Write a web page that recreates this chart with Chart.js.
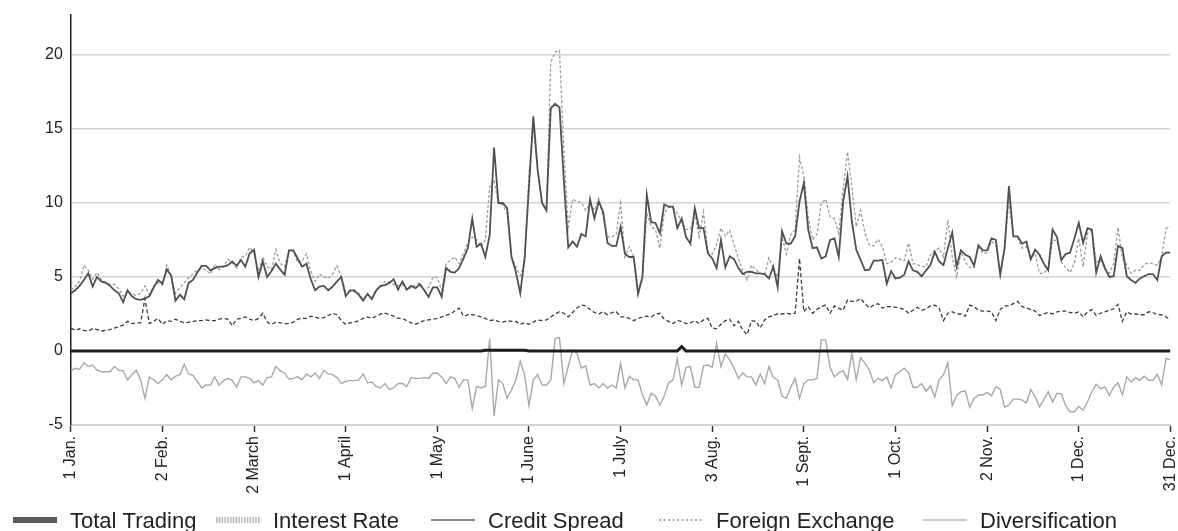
<!DOCTYPE html>
<html>
<head>
<meta charset="utf-8">
<title>Trading VaR by risk type</title>
<script src="https://cdn.jsdelivr.net/npm/chart.js@4.4.1/dist/chart.umd.min.js"></script>
<style>
  html, body { margin: 0; padding: 0; background: #ffffff; }
  #wrap { width: 1178px; height: 531px; position: relative; overflow: hidden; }
  canvas { display: block; }
</style>
</head>
<body>
<div id="wrap"><canvas id="chart" width="1178" height="531"></canvas></div>
<script>
// Month markers on the horizontal axis: one label every 21 trading days.
const tickLabels = ['1 Jan.', '2 Feb.', '2 March', '1 April', '1 May', '1 June', '1 July',
                    '3 Aug.', '1 Sept.', '1 Oct.', '2 Nov.', '1 Dec.', '31 Dec.'];
const daysPerTick = 21;
const yTicks = [-5, 0, 5, 10, 15, 20];

const seriesNames = ['Total Trading', 'Interest Rate', 'Credit Spread', 'Foreign Exchange', 'Diversification'];

// Daily values, one per trading day (253 days).
const totalTrading = [
  0,0,0,0,0,0,0,0,0,0,
  0,0,0,0,0,0,0,0,0,0,
  0,0,0,0,0,0,0,0,0,0,
  0,0,0,0,0,0,0,0,0,0,
  0,0,0,0,0,0,0,0,0,0,
  0,0,0,0,0,0,0,0,0,0,
  0,0,0,0,0,0,0,0,0,0,
  0,0,0,0,0,0,0,0,0,0,
  0,0,0,0,0,0,0,0,0,0,
  0,0,0,0,0,0.05,0.05,0.05,0.05,0.05,
  0.05,0.05,0.05,0.05,0.05,0,0,0,0,0,
  0,0,0,0,0,0,0,0,0,0,
  0,0,0,0,0,0,0,0,0,0,
  0,0,0,0,0,0,0,0,0,0,
  0.3,0,0,0,0,0,0,0,0,0,
  0,0,0,0,0,0,0,0,0,0,
  0,0,0,0,0,0,0,0,0,0,
  0,0,0,0,0,0,0,0,0,0,
  0,0,0,0,0,0,0,0,0,0,
  0,0,0,0,0,0,0,0,0,0,
  0,0,0,0,0,0,0,0,0,0,
  0,0,0,0,0,0,0,0,0,0,
  0,0,0,0,0,0,0,0,0,0,
  0,0,0,0,0,0,0,0,0,0,
  0,0,0,0,0,0,0,0,0,0,
  0,0,0
];

const interestRate = [
  4.1, 4.35, 4.7, 5.8, 5.45, 4.85, 5.3, 4.8, 4.65, 4.5,
  4.5, 4.2, 3.7, 4.05, 3.85, 3.75, 3.9, 4.4, 3.8, 4.4,
  4.6, 4.45, 5.8, 5.05, 3.9, 4.3, 4.6, 4.95, 5.2, 5.5,
  5.6, 5.45, 5.2, 5.85, 5.5, 5.7, 6.2, 5.95, 5.6, 6.35,
  6.4, 7.0, 6.6, 5.4, 6.35, 5.7, 5.5, 6.85, 5.9, 5.7,
  6.8, 6.75, 5.95, 6.1, 6.55, 5.4, 4.7, 5.2, 5.0, 4.9,
  5.2, 5.75, 5.0, 4.0, 4.05, 4.0, 3.9, 3.5, 3.85, 3.6,
  4.1, 4.3, 4.7, 4.65, 4.5, 4.4, 4.5, 4.1, 4.3, 4.45,
  4.6, 4.1, 4.3, 5.0, 4.95, 4.1, 5.9, 6.15, 6.35, 5.9,
  6.6, 7.3, 7.7, 7.5, 7.05, 7.5, 11.1, 11.55, 10.0, 9.85,
  9.3, 6.35, 5.7, 5.1, 5.9, 12.0, 15.15, 12.2, 10.1, 9.5,
  19.5, 20.2, 20.3, 13.5, 8.4, 10.25, 10.1, 10.05, 9.5, 9.95,
  9.5, 10.3, 9.1, 7.7, 7.7, 7.9, 10.0, 6.35, 7.05, 6.35,
  4.1, 4.8, 9.3, 8.4, 8.2, 6.95, 9.3, 9.7, 9.7, 9.3,
  8.75, 8.2, 8.25, 9.3, 7.7, 9.4, 6.7, 6.55, 7.2, 8.3,
  7.75, 8.15, 7.2, 6.25, 5.4, 4.8, 5.8, 5.5, 5.25, 5.15,
  6.3, 5.55, 5.0, 7.7, 6.55, 7.85, 8.2, 13.1, 11.8, 9.05,
  7.5, 7.9, 10.0, 10.25, 9.05, 8.95, 7.95, 10.9, 13.45, 11.1,
  8.4, 9.5, 7.95, 7.15, 7.1, 7.55, 7.05, 5.9, 6.0, 6.3,
  6.2, 6.1, 7.3, 5.9, 5.85, 5.7, 5.7, 6.5, 6.8, 6.95,
  6.35, 8.85, 6.35, 5.0, 6.7, 6.0, 5.65, 5.65, 7.0, 6.6,
  6.65, 7.4, 7.15, 5.2, 6.95, 10.2, 7.75, 7.65, 6.95, 7.05,
  6.3, 6.6, 5.25, 5.25, 5.6, 7.5, 7.45, 6.0, 5.65, 5.3,
  5.95, 7.6, 5.7, 7.95, 8.2, 6.0, 6.15, 5.5, 5.25, 5.9,
  8.35, 6.25, 5.8, 5.25, 5.45, 5.45, 5.85, 5.95, 5.9, 5.8,
  6.35, 8.3, 8.4
];

const creditSpread = [
  3.9, 4.1, 4.4, 4.8, 5.25, 4.35, 5.0, 4.7, 4.6, 4.4,
  4.1, 3.9, 3.3, 4.1, 3.7, 3.5, 3.45, 3.55, 3.7, 4.3,
  4.8, 4.55, 5.5, 5.1, 3.4, 3.8, 3.5, 4.6, 4.8, 5.3,
  5.75, 5.75, 5.45, 5.6, 5.7, 5.7, 5.8, 6.05, 5.75, 6.15,
  5.7, 6.6, 6.85, 5.0, 6.05, 5.0, 5.4, 5.9, 5.5, 5.15,
  6.8, 6.8, 6.25, 5.7, 5.9, 4.85, 4.1, 4.35, 4.4, 4.1,
  4.35, 4.7, 5.0, 3.7, 4.1, 4.1, 3.8, 3.4, 3.85, 3.5,
  4.1, 4.4, 4.45, 4.6, 4.85, 4.15, 4.7, 4.15, 4.4, 4.25,
  4.5, 4.1, 3.65, 4.3, 4.3, 3.65, 5.6, 5.35, 5.3, 5.6,
  6.25, 6.95, 8.95, 7.05, 7.25, 6.35, 7.85, 13.75, 10.0, 10.0,
  9.65, 6.35, 5.35, 3.9, 6.25, 11.1, 15.85, 12.2, 10.0, 9.5,
  16.4, 16.7, 16.45, 11.5, 7.0, 7.4, 7.05, 7.9, 7.75, 10.25,
  8.95, 10.1, 9.4, 7.3, 7.1, 7.1, 8.4, 6.55, 6.35, 6.35,
  3.85, 5.0, 10.55, 8.7, 8.65, 7.95, 9.9, 9.75, 9.75, 8.3,
  8.95, 7.7, 7.25, 9.65, 8.3, 8.3, 6.6, 6.25, 5.6, 7.5,
  5.65, 6.4, 6.2, 5.6, 5.2, 5.35, 5.35, 5.25, 5.25, 5.2,
  4.9, 5.7, 4.3, 8.1, 7.25, 7.25, 7.75, 10.1, 11.35, 8.2,
  6.95, 7.0, 6.25, 6.4, 7.5, 7.6, 6.35, 10.1, 11.8, 8.75,
  6.85, 6.15, 5.45, 5.5, 6.1, 6.1, 6.15, 4.55, 5.4, 4.9,
  4.95, 5.15, 6.05, 5.45, 5.35, 5.05, 5.45, 5.8, 6.7, 6.05,
  5.8, 6.95, 8.0, 5.7, 6.8, 6.5, 6.35, 5.75, 7.15, 6.8,
  6.8, 7.6, 7.5, 5.15, 6.95, 11.15, 7.75, 7.75, 7.25, 7.4,
  6.2, 6.85, 6.5, 5.9, 5.45, 8.2, 7.7, 6.15, 6.55, 6.65,
  7.6, 8.65, 7.3, 8.3, 8.2, 5.3, 6.4, 5.6, 5.0, 5.05,
  7.1, 6.95, 5.05, 4.8, 4.6, 4.9, 5.05, 5.2, 5.2, 4.8,
  6.4, 6.65, 6.65
];

const foreignExchange = [
  1.55, 1.4, 1.5, 1.4, 1.35, 1.5, 1.45, 1.35, 1.4, 1.45,
  1.55, 1.65, 1.75, 2.0, 1.85, 1.9, 1.9, 3.55, 1.85, 2.0,
  2.2, 1.8, 2.05, 2.0, 2.15, 2.0, 1.9, 1.95, 2.0, 2.05,
  2.05, 2.1, 2.05, 2.05, 2.15, 2.2, 2.15, 1.7, 2.15, 2.2,
  2.3, 2.15, 2.05, 2.2, 2.55, 1.95, 1.8, 1.95, 1.9, 1.85,
  1.85, 1.95, 2.15, 2.2, 2.2, 2.35, 2.3, 2.2, 2.25, 2.4,
  2.55, 2.45, 2.05, 1.8, 1.9, 1.95, 2.05, 2.2, 2.3, 2.2,
  2.35, 2.5, 2.55, 2.45, 2.35, 2.2, 2.2, 2.05, 1.9, 1.8,
  1.95, 2.05, 2.1, 2.15, 2.2, 2.3, 2.4, 2.5, 2.7, 2.9,
  2.35, 2.45, 2.45, 2.4, 2.3, 2.2, 2.05, 2.1, 2.0, 1.95,
  2.05, 2.0, 2.0, 1.8, 1.9, 1.8, 1.95, 2.1, 2.05, 2.1,
  2.3, 2.5, 2.65, 2.55, 2.3, 2.6, 2.9, 3.1, 3.05, 2.8,
  2.6, 2.5, 2.65, 2.45, 2.6, 2.65, 2.3, 2.3, 2.2, 2.05,
  2.2, 2.3, 2.35, 2.3, 2.5, 2.55, 2.15, 2.0, 1.85, 2.05,
  2.0, 1.85, 1.9, 2.05, 1.85, 2.1, 2.2, 1.55, 1.5, 1.8,
  2.05, 2.15, 1.7, 2.0, 1.4, 1.1, 2.05, 2.0, 1.55, 2.1,
  2.3, 2.4, 2.5, 2.5, 2.55, 2.5, 2.55, 6.25, 2.65, 3.0,
  2.55, 2.8, 3.0, 3.1, 2.55, 3.05, 2.9, 2.75, 3.45, 3.35,
  3.35, 3.55, 3.2, 2.9, 3.1, 3.2, 2.9, 3.0, 3.0, 2.95,
  2.9, 2.8, 2.55, 2.75, 2.95, 2.75, 2.85, 3.05, 3.1, 2.9,
  2.05, 2.55, 2.65, 2.5, 2.5, 2.35, 3.1, 3.0, 2.75, 2.7,
  2.7, 2.65, 2.05, 2.8, 3.05, 3.05, 3.2, 3.35, 3.0, 2.9,
  2.8, 2.7, 2.4, 2.5, 2.6, 2.5, 2.65, 2.7, 2.7, 2.6,
  2.55, 2.65, 2.3, 2.65, 2.8, 2.4, 2.55, 2.65, 2.75, 2.85,
  3.15, 2.0, 2.65, 2.5, 2.5, 2.45, 2.45, 2.65, 2.6, 2.45,
  2.45, 2.3, 2.1
];

const diversification = [
  -1.33, -1.17, -1.25, -0.8, -1.05, -0.95, -1.3, -1.4, -1.4, -1.4,
  -1.05, -1.3, -1.33, -1.95, -1.6, -1.3, -1.95, -3.2, -1.75, -1.95,
  -2.2, -1.95, -1.6, -1.95, -1.7, -1.6, -0.9, -1.55, -1.65, -2.05,
  -2.5, -2.3, -2.3, -1.75, -2.3, -2.0, -1.85, -2.0, -2.45, -1.75,
  -1.75, -1.85, -2.15, -2.0, -2.3, -1.8, -1.75, -1.05, -1.33, -1.5,
  -1.91, -1.85, -1.75, -1.95, -1.55, -1.75, -1.48, -1.85, -1.3, -1.55,
  -1.6, -1.8, -2.2, -2.05, -2.0, -2.0, -1.95, -1.55, -2.15, -2.1,
  -2.4, -2.5, -2.2, -2.6, -2.5, -2.2, -2.2, -2.4, -1.8, -1.85,
  -1.85, -1.8, -1.85, -1.5, -1.5, -1.75, -2.2, -1.75, -1.85, -2.45,
  -1.95, -1.95, -3.9, -2.4, -2.5, -2.4, 0.85, -4.4, -1.95, -2.2,
  -3.2, -2.64, -1.95, -0.7, -1.6, -3.7, -1.95, -1.6, -2.3, -2.3,
  -1.95, 0.85, 0.9, -2.2, -1.05, 0.05, -0.15, -1.15, -1.0, -2.3,
  -2.2, -2.5, -2.2, -2.5, -2.3, -2.5, -0.85, -2.5, -1.7, -1.95,
  -1.95, -2.95, -3.65, -2.85, -3.05, -3.65, -3.05, -2.15, -1.95, -0.55,
  -2.3, -1.1, -1.05, -2.45, -2.45, -1.0, -0.95, -1.1, 0.5, -1.05,
  -0.2, -0.6, -1.17, -1.85, -1.47, -1.75, -1.75, -2.3, -1.55, -2.2,
  -1.05, -1.78, -1.95, -3.05, -3.2, -2.45, -1.85, -3.2, -2.2, -1.95,
  -1.95, -1.85, 0.75, 0.75, -1.1, -1.75, -1.47, -1.33, -1.92, -0.15,
  -1.95, -0.43, -0.83, -1.28, -2.14, -1.85, -2.0, -1.75, -2.5, -1.6,
  -1.4, -1.17, -1.47, -2.45, -2.45, -2.2, -2.7, -2.36, -3.1, -1.95,
  -1.6, -0.8, -3.7, -3.0, -2.75, -2.69, -3.8, -3.2, -2.97, -2.97,
  -2.8, -3.03, -2.4, -2.6, -3.8, -3.65, -3.25, -3.25, -3.3, -3.5,
  -2.6, -3.1, -3.78, -3.28, -2.75, -3.45, -2.85, -2.9, -3.7, -4.1,
  -4.1, -3.75, -4.0, -3.43, -2.75, -2.25, -2.55, -2.43, -3.0, -2.45,
  -2.15, -2.98, -1.75, -2.1, -1.8, -1.98, -1.7, -1.98, -1.98, -1.57,
  -2.3, -0.5, -0.6
];

// Axis text: a narrow grotesque if one is installed, otherwise the regular face.
function axisFont() {
  const ctx = document.createElement('canvas').getContext('2d');
  const sample = '2 March 1 Sept. 20 15 10';
  ctx.font = "20px 'Liberation Sans Narrow', monospace";
  const narrow = ctx.measureText(sample).width;
  ctx.font = '20px monospace';
  const mono = ctx.measureText(sample).width;
  if (Math.abs(narrow - mono) > 0.5) {
    return { family: "'Liberation Sans Narrow', 'Liberation Sans', Arial, sans-serif", size: 18.5 };
  }
  return { family: "'Liberation Sans', Arial, sans-serif", size: 16 };
}
const tickFont = axisFont();

const points = values => values.map((v, i) => ({ x: i, y: v }));

// Legend row drawn under the axis labels, one swatch per series.
const legendSwatches = [
  { color: '#5c5c5c', width: 6,   dash: [] },
  { color: '#b3b3b3', width: 6,   dash: [1.4, 1.4] },
  { color: '#5c5c5c', width: 1.6, dash: [] },
  { color: '#8c8c8c', width: 1.4, dash: [2, 2.5] },
  { color: '#b8b8b8', width: 1.6, dash: [] }
];
const legendStarts = [13, 216, 431, 659, 923];

const legendRow = {
  id: 'legendRow',
  afterDraw(chart) {
    const ctx = chart.ctx;
    const lineY = 520;
    ctx.save();
    ctx.font = "22px 'Liberation Sans', Arial, sans-serif";
    ctx.textBaseline = 'alphabetic';
    ctx.textAlign = 'left';
    ctx.fillStyle = '#222222';
    chart.data.datasets.forEach((ds, k) => {
      const sw = legendSwatches[k];
      const x0 = legendStarts[k];
      ctx.beginPath();
      ctx.setLineDash(sw.dash);
      ctx.lineCap = 'butt';
      ctx.lineWidth = sw.width;
      ctx.strokeStyle = sw.color;
      ctx.moveTo(x0, lineY);
      ctx.lineTo(x0 + 44, lineY);
      ctx.stroke();
      ctx.setLineDash([]);
      ctx.fillText(ds.label, x0 + 57, 528);
    });
    ctx.restore();
  }
};

const lastIndex = creditSpread.length - 1;

new Chart(document.getElementById('chart'), {
  type: 'line',
  data: {
    datasets: [
      { label: seriesNames[0], data: points(totalTrading),    borderColor: '#1c1c1c', borderWidth: 3,   order: 0 },
      { label: seriesNames[1], data: points(interestRate),    borderColor: '#9c9c9c', borderWidth: 1.3, borderDash: [3, 2], order: 2 },
      { label: seriesNames[2], data: points(creditSpread),    borderColor: '#505050', borderWidth: 1.8, order: 1 },
      { label: seriesNames[3], data: points(foreignExchange), borderColor: '#3c3c3c', borderWidth: 1.3, borderDash: [4, 2.5], order: 3 },
      { label: seriesNames[4], data: points(diversification), borderColor: '#a9a9a9', borderWidth: 1.4, order: 4 }
    ]
  },
  options: {
    responsive: false,
    animation: false,
    devicePixelRatio: 1,
    events: [],
    layout: { padding: { left: 0, right: 7.6, top: 15, bottom: 31 } },
    elements: {
      point: { radius: 0, hoverRadius: 0 },
      line: { tension: 0, fill: false }
    },
    plugins: {
      legend: { display: false },
      tooltip: { enabled: false },
      title: { display: false }
    },
    scales: {
      x: {
        type: 'linear',
        min: 0,
        max: lastIndex,
        afterBuildTicks: scale => {
          scale.ticks = tickLabels.map((_, k) => ({ value: k * daysPerTick }));
        },
        afterFit: scale => {
          scale.height = 75;
          scale.paddingLeft = 0;
          scale.paddingRight = 0;
        },
        ticks: {
          autoSkip: false,
          minRotation: 90,
          maxRotation: 90,
          padding: 4,
          color: '#222222',
          font: tickFont,
          callback: value => tickLabels[Math.round(value / daysPerTick)]
        },
        grid: {
          drawOnChartArea: false,
          drawTicks: true,
          tickLength: 7,
          tickWidth: 1.5,
          tickColor: '#333333',
          color: '#333333'
        },
        border: { display: true, color: '#d2d2d2', width: 2 }
      },
      y: {
        type: 'linear',
        min: -5,
        max: 22.7,
        afterBuildTicks: scale => {
          scale.ticks = yTicks.map(v => ({ value: v }));
        },
        afterFit: scale => {
          scale.width = 70.8;
          scale.paddingTop = 0;
          scale.paddingBottom = 0;
        },
        ticks: {
          padding: 8,
          color: '#222222',
          font: tickFont
        },
        grid: {
          drawTicks: false,
          lineWidth: 1.4,
          color: ctx => (ctx.tick && ctx.tick.value === -5) ? 'rgba(0,0,0,0)' : '#d4d4d4'
        },
        border: { display: true, color: '#222222', width: 1.5 }
      }
    }
  },
  plugins: [legendRow]
});
</script>
</body>
</html>
